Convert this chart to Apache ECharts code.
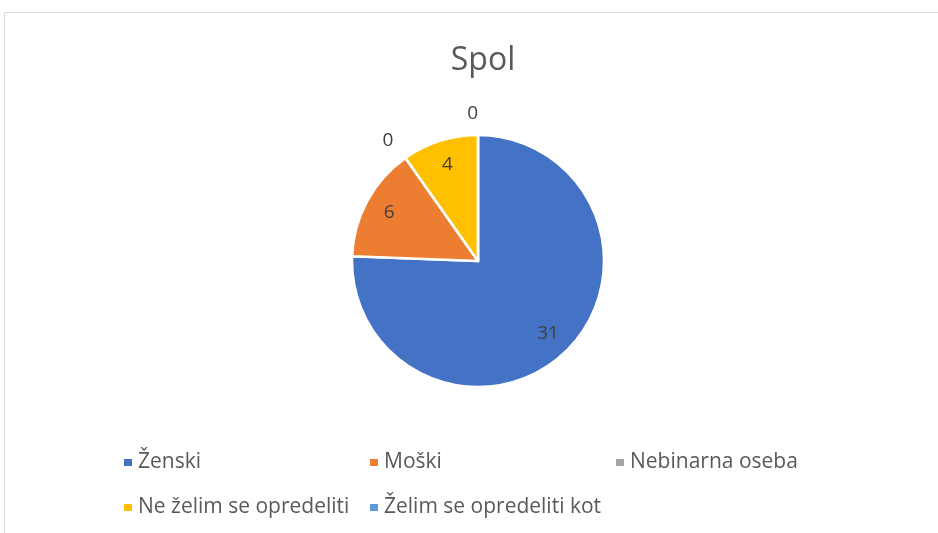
<!DOCTYPE html>
<html>
<head>
<meta charset="utf-8">
<script src="https://cdn.jsdelivr.net/npm/echarts@6/dist/echarts.min.js"></script>
<style>
  html, body { margin: 0; padding: 0; background: #fff; }
  #main { width: 938px; height: 533px; }
</style>
</head>
<body>
<div id="main"></div>
<script>
// podatki
var categories = ['Ženski', 'Moški', 'Nebinarna oseba', 'Ne želim se opredeliti', 'Želim se opredeliti kot'];
var values = [31, 6, 0, 4, 0];
var colors = ['#4472C4', '#ED7D31', '#A5A5A5', '#FFC000', '#5B9BD5'];

var chart = echarts.init(document.getElementById('main'));

var pieData = categories.map(function (name, i) {
    return { name: name, value: values[i], itemStyle: { color: colors[i] } };
});
// labels: inside for non-zero, outside for zero
var labelData = categories.map(function (name, i) {
    var zero = values[i] === 0;
    return {
        name: name,
        value: values[i],
        label: { position: zero ? 'outside' : 'inside' },
        labelLine: { show: false }
    };
});

var option = {
    animation: false,
    graphic: [{
        type: 'rect',
        shape: { x: 4.5, y: 12.5, width: 1000, height: 1000 },
        style: { fill: 'none', stroke: '#d9d9d9', lineWidth: 1 },
        silent: true
    }],
    title: {
        text: 'Spol',
        left: 478,
        textAlign: 'center',
        top: 40,
        textStyle: { fontFamily: 'Open Sans', fontSize: 32, fontWeight: 'normal', color: '#595959' }
    },
    legend: {
        data: categories,
        left: 117,
        top: 435,
        width: 745,
        itemGap: 0,
        itemWidth: 10,
        itemHeight: 9,
        icon: 'rect',
        selectedMode: false,
        textStyle: {
            fontFamily: 'Open Sans',
            fontSize: 21,
            color: '#595959',
            width: 230,
            lineHeight: 45
        }
    },
    series: [
        {
            type: 'pie',
            center: [478, 261],
            radius: [0, 126],
            startAngle: 90,
            clockwise: true,
            silent: true,
            itemStyle: { borderColor: '#fff', borderWidth: 2.5 },
            label: { show: false },
            labelLine: { show: false },
            data: pieData
        },
        {
            // transparent ring only for label placement
            type: 'pie',
            center: [478, 261],
            radius: [70, 126],
            startAngle: 90,
            clockwise: true,
            silent: true,
            itemStyle: { color: 'transparent', borderWidth: 0 },
            label: {
                show: true,
                formatter: '{c}',
                fontFamily: 'Open Sans',
                fontSize: 19,
                color: '#404040',
                distanceToLabelLine: 0
            },
            labelLine: { show: false, length: 21, length2: 0 },
            data: labelData
        }
    ]
};

chart.setOption(option);
</script>
</body>
</html>
